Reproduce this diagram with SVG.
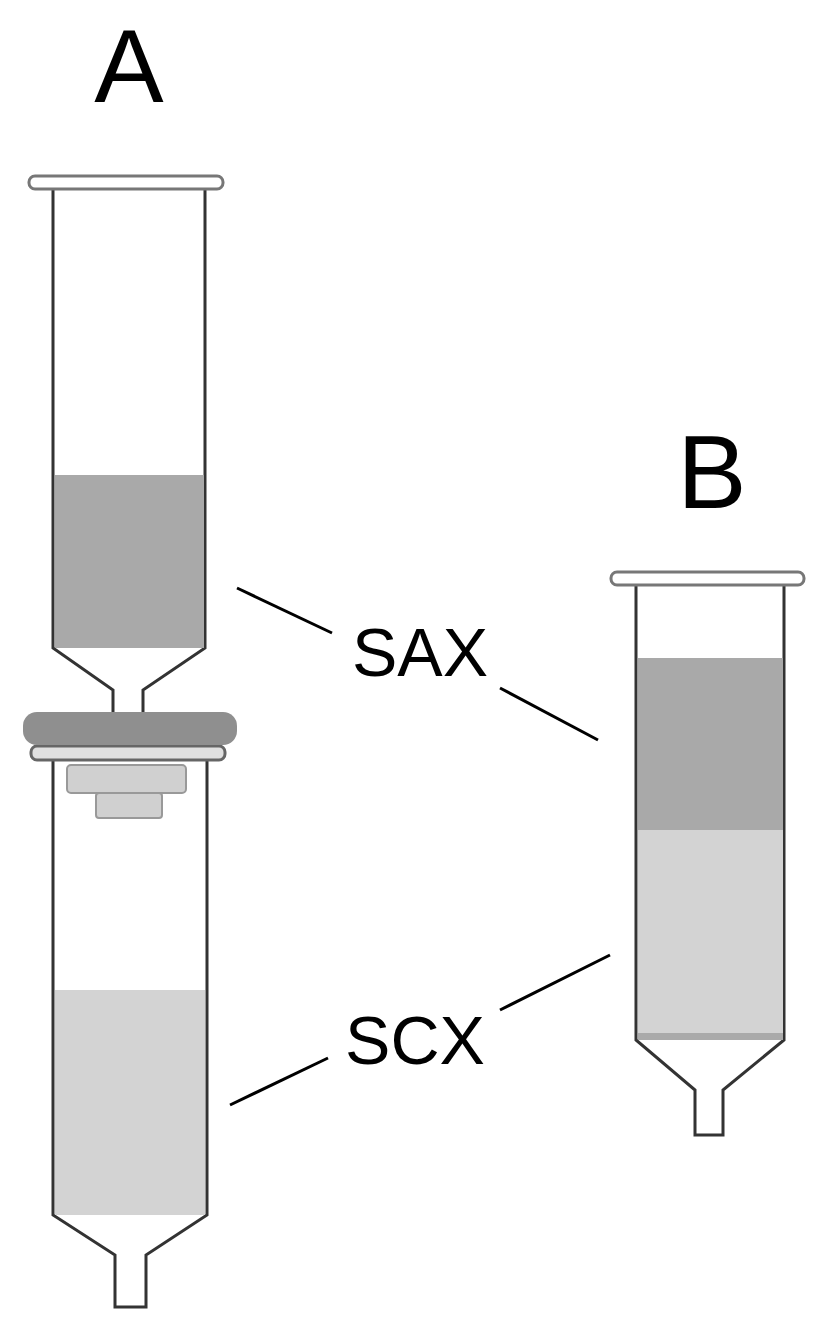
<svg xmlns="http://www.w3.org/2000/svg" width="829" height="1344" viewBox="0 0 829 1344">
<style>
.w{fill:#fff;stroke:#333;stroke-width:3}
.fl{fill:#fff;stroke:#777;stroke-width:3}
.dark{fill:#a9a9a9}
.light{fill:#d3d3d3}
.lbl{font-family:"Liberation Sans",Arial,sans-serif;fill:#000}
.ln{stroke:#000;stroke-width:3;fill:none}
</style>
<rect width="829" height="1344" fill="#fff"/>
<text class="lbl" x="129" y="102" font-size="104" text-anchor="middle">A</text>
<text class="lbl" x="712" y="508" font-size="104" text-anchor="middle">B</text>
<g id="colA-top">
<path class="w" d="M53,189 V648 L113,690 V712 M143,712 V690 L205,648 V189"/>
<rect class="dark" x="55" y="475" width="149" height="173"/>
<rect class="fl" x="29" y="176" width="194" height="13" rx="6"/>
</g>
<g id="colA-bottom">
<path class="w" d="M53,760 V1215 L115,1255 V1307 H146 V1255 L207,1215 V760"/>
<rect class="light" x="55" y="990" width="150" height="225"/>
<rect x="67" y="765" width="119" height="28" rx="4" fill="#d0d0d0" stroke="#999" stroke-width="2"/>
<rect x="96" y="793" width="66" height="25" rx="3" fill="#d0d0d0" stroke="#999" stroke-width="2"/>
<rect x="31" y="746" width="194" height="14" rx="6" fill="#e0e0e0" stroke="#666" stroke-width="3"/>
<rect x="23" y="712" width="214" height="33" rx="14" fill="#8f8f8f"/>
</g>
<g id="colB">
<path class="w" d="M636,586 V1040 L695,1090 V1135 H723 V1090 L784,1040 V586"/>
<rect class="dark" x="638" y="658" width="145" height="172" fill="#9e9e9e"/>
<rect class="light" x="638" y="830" width="145" height="203"/>
<rect x="638" y="1033" width="145" height="7" fill="#aaa"/>
<rect class="fl" x="611" y="572" width="193" height="13" rx="6"/>
</g>
<g id="labels">
<text class="lbl" x="420" y="676" font-size="68" text-anchor="middle">SAX</text>
<text class="lbl" x="415" y="1064" font-size="68" text-anchor="middle">SCX</text>
</g>
<g id="connectors">
<line class="ln" x1="237" y1="588" x2="332" y2="633"/>
<line class="ln" x1="500" y1="688" x2="598" y2="740"/>
<line class="ln" x1="230" y1="1105" x2="328" y2="1058"/>
<line class="ln" x1="500" y1="1010" x2="610" y2="955"/>
</g>
</svg>
